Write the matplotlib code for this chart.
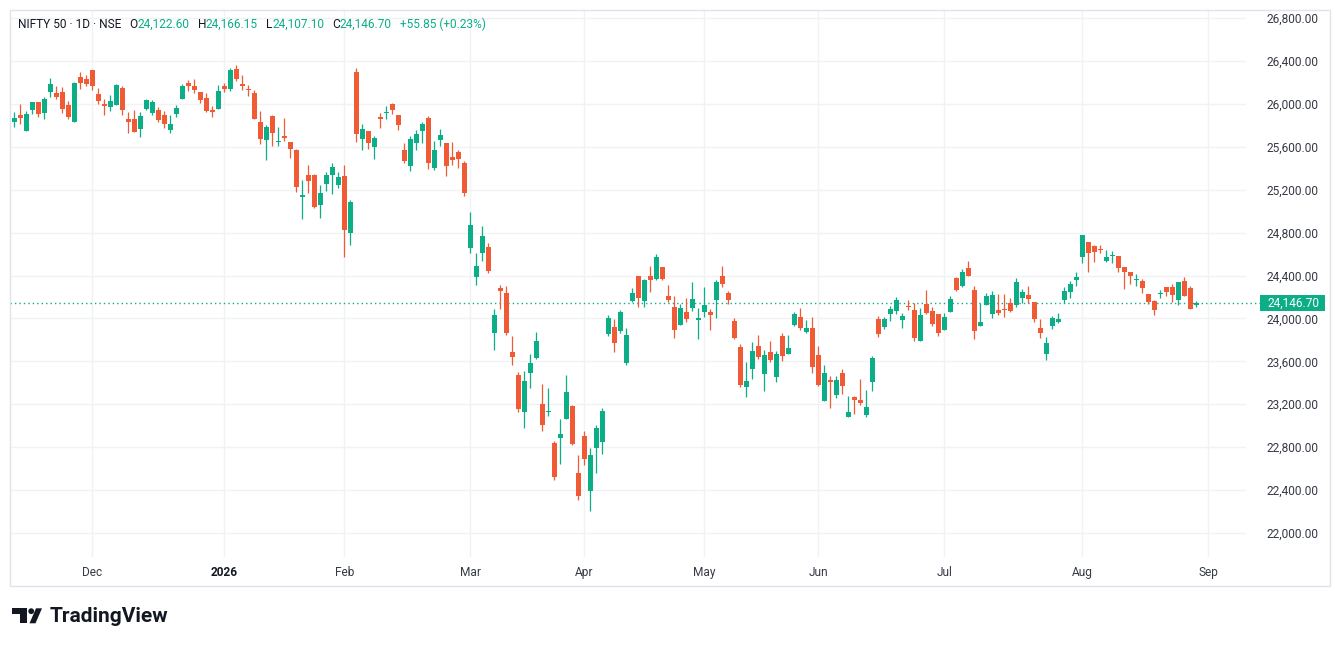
"""NIFTY 50 daily candles, TradingView light theme look-alike.

Usage:
    python3 plot.py   -> writes out.png
"""

import matplotlib
matplotlib.use("Agg")
import matplotlib.pyplot as plt
from matplotlib.patches import Rectangle, Circle, Polygon
from matplotlib.transforms import blended_transform_factory

plt.rcParams["font.family"] = ["Roboto", "DejaVu Sans"]

# --- data (one entry per trading session) ---
opens = [
    25827, 25899, 25750, 25939, 26019, 25911, 26112, 26103, 26112, 25992,
    25827, 26252, 26233, 26317, 26088, 26001, 25967, 25985, 26150, 25861,
    25861, 25762, 25954, 25917, 25945, 25899, 25753, 25902, 26041, 26196,
    26168, 26112, 26057, 25936, 25954, 26168, 26143, 26326, 26187, 26137,
    26103, 25833, 25660, 25889, 25641, 25694, 25647, 25573, 25130, 25341,
    25341, 25055, 25251, 25334, 25241, 25331, 24798, 26298, 25669, 25750,
    25595, 25880, 25911, 25995, 25899, 25567, 25418, 25632, 25744, 25871,
    25399, 25666, 25638, 25508, 25554, 25452, 24657, 24388, 24611, 24664,
    23867, 24282, 24236, 23687, 23473, 23123, 23495, 23634, 23204, 23126,
    22841, 22881, 23067, 23185, 22562, 22906, 22388, 22788, 22844, 23852,
    23917, 23883, 23582, 24158, 24391, 24158, 24391, 24363, 24475, 24205,
    24103, 23935, 24056, 24093, 23994, 24056, 24056, 24168, 24400, 24233,
    23972, 23731, 23362, 23529, 23743, 23483, 23687, 23455, 23836, 23669,
    23938, 24013, 23873, 23910, 23659, 23231, 23427, 23287, 23492, 23083,
    23269, 23241, 23101, 23408, 23994, 23923, 24041, 24068, 23985, 24115,
    24078, 23789, 24133, 24068, 24041, 23892, 24059, 24375, 24301, 24468,
    24264, 23929, 24124, 24041, 24078, 24087, 24143, 24124, 24189, 24217,
    24152, 23910, 23668, 23933, 23967, 24171, 24246, 24357, 24571, 24711,
    24673, 24645, 24534, 24584, 24580, 24478, 24432, 24360, 24348, 24227,
    24162, 24227, 24292, 24292, 24171, 24348, 24283, 24122.60,
]
highs = [
    25923, 26001, 25933, 26019, 26019, 26066, 26243, 26168, 26159, 26029,
    26202, 26295, 26270, 26317, 26150, 26050, 26081, 26187, 26168, 25926,
    25945, 25920, 26047, 26032, 25973, 25936, 25899, 25992, 26181, 26224,
    26233, 26112, 26103, 25979, 26178, 26190, 26336, 26364, 26270, 26178,
    26131, 25936, 25806, 25899, 25787, 25871, 25647, 25582, 25294, 25434,
    25350, 25248, 25368, 25452, 25368, 25434, 25108, 26336, 25815, 25750,
    25703, 25917, 25982, 26004, 25899, 25632, 25703, 25759, 25833, 25883,
    25657, 25768, 25638, 25647, 25573, 25471, 24989, 24608, 24859, 24701,
    24087, 24310, 24301, 23836, 23501, 23510, 23669, 23873, 23390, 23352,
    22859, 23064, 23473, 23194, 22729, 22952, 22794, 23008, 23166, 24028,
    23991, 24075, 23907, 24279, 24400, 24363, 24484, 24605, 24475, 24307,
    24205, 24130, 24186, 24335, 24093, 24289, 24084, 24354, 24484, 24251,
    24000, 23759, 23594, 23780, 23845, 23706, 23789, 23696, 23864, 23845,
    24059, 24096, 23985, 24013, 23743, 23566, 23464, 23464, 23529, 23278,
    23278, 23436, 23334, 23650, 24022, 24013, 24115, 24199, 24050, 24171,
    24143, 24096, 24264, 24106, 24041, 24050, 24208, 24385, 24459, 24533,
    24301, 24143, 24236, 24254, 24227, 24227, 24189, 24375, 24273, 24301,
    24152, 23994, 23827, 24022, 24050, 24292, 24348, 24432, 24776, 24711,
    24683, 24683, 24636, 24627, 24580, 24478, 24432, 24413, 24367, 24227,
    24171, 24264, 24292, 24320, 24339, 24385, 24301, 24166.15,
]
lows = [
    25781, 25809, 25744, 25902, 25874, 25855, 26060, 26050, 25911, 25855,
    25827, 26134, 26171, 26125, 25998, 25892, 25936, 25985, 25892, 25725,
    25734, 25688, 25939, 25899, 25827, 25775, 25725, 25877, 26041, 26116,
    26103, 26004, 25920, 25877, 25954, 26106, 26116, 26209, 26125, 26069,
    25855, 25623, 25474, 25604, 25604, 25651, 25492, 25176, 24925, 25170,
    25027, 24934, 25186, 25158, 25213, 24572, 24683, 25641, 25567, 25576,
    25489, 25778, 25861, 25902, 25753, 25446, 25372, 25567, 25638, 25390,
    25381, 25604, 25325, 25427, 25399, 25139, 24611, 24310, 24533, 24425,
    23709, 24090, 23848, 23569, 23123, 22974, 23355, 23625, 22946, 23086,
    22491, 22639, 23067, 22816, 22305, 22630, 22202, 22556, 22732, 23833,
    23687, 23864, 23563, 24149, 24103, 24103, 24242, 24354, 24354, 24149,
    23814, 23935, 23963, 24065, 23805, 24010, 23889, 24000, 24289, 24131,
    23805, 23359, 23269, 23436, 23622, 23324, 23594, 23408, 23603, 23669,
    23929, 23892, 23864, 23492, 23371, 23231, 23166, 23259, 23296, 23083,
    23110, 23194, 23083, 23324, 23830, 23901, 23975, 24041, 23910, 24078,
    23789, 23789, 24041, 23929, 23836, 23892, 24059, 24254, 24292, 24394,
    23808, 23929, 24124, 24003, 24031, 24013, 24059, 24106, 24143, 24143,
    23966, 23817, 23613, 23905, 23957, 24143, 24190, 24301, 24515, 24432,
    24525, 24608, 24525, 24515, 24432, 24274, 24320, 24301, 24236, 24134,
    24032, 24190, 24208, 24153, 24125, 24208, 24088, 24107.10,
]
closes = [
    25868, 25864, 25908, 26013, 25902, 26044, 26187, 26060, 25948, 25874,
    26196, 26199, 26187, 26162, 26023, 25976, 26026, 26178, 25945, 25827,
    25740, 25889, 26038, 26019, 25846, 25809, 25815, 25964, 26171, 26162,
    26125, 26032, 25930, 25930, 26122, 26134, 26317, 26236, 26162, 26134,
    25861, 25669, 25787, 25725, 25657, 25688, 25576, 25223, 25155, 25279,
    25037, 25173, 25341, 25415, 25322, 24823, 25089, 25716, 25768, 25632,
    25682, 25855, 25926, 25939, 25799, 25465, 25675, 25722, 25815, 25446,
    25567, 25713, 25418, 25474, 25483, 25167, 24868, 24487, 24766, 24440,
    24031, 24258, 23867, 23644, 23151, 23417, 23585, 23789, 23011, 23132,
    22518, 22925, 23315, 22825, 22342, 22686, 22729, 22980, 23138, 24000,
    23771, 24056, 23842, 24233, 24186, 24354, 24354, 24577, 24372, 24168,
    23889, 24093, 23991, 24177, 23997, 24121, 24028, 24335, 24317, 24168,
    23814, 23380, 23417, 23696, 23641, 23659, 23613, 23669, 23650, 23724,
    24041, 23910, 23910, 23548, 23380, 23492, 23411, 23427, 23371, 23129,
    23241, 23213, 23176, 23631, 23858, 23994, 24087, 24171, 24022, 24109,
    23817, 24031, 24050, 23948, 23864, 24013, 24180, 24264, 24431, 24394,
    23882, 23966, 24208, 24217, 24050, 24081, 24068, 24338, 24245, 24180,
    23994, 23864, 23771, 24004, 23995, 24255, 24320, 24385, 24776, 24608,
    24618, 24639, 24571, 24590, 24469, 24432, 24394, 24367, 24283, 24153,
    24078, 24233, 24246, 24218, 24339, 24208, 24091, 24146.70,
]

# first session of each month (index into the arrays above)
month_labels = ["Dec", "2026", "Feb", "Mar", "Apr", "May", "Jun", "Jul", "Aug", "Sep"]
month_start_idx = [13, 35, 55, 76, 95, 115, 134, 155, 178, 199]

price_ticks = [22000, 22400, 22800, 23200, 23600, 24000, 24400, 24800,
               25200, 25600, 26000, 26400, 26800]

header_parts = [
    ("NIFTY 50 \u00b7 1D \u00b7 NSE", "dark"),
    ("O", "dark"), ("24,122.60", "up"),
    ("H", "dark"), ("24,166.15", "up"),
    ("L", "dark"), ("24,107.10", "up"),
    ("C", "dark"), ("24,146.70", "up"),
    ("+55.85 (+0.23%)", "up"),
]

UP = "#0BAE87"
DOWN = "#F05A35"
TEXT = "#131722"
AXIS_TEXT = "#363A45"
GRID = "#F0F2F6"
W, H = 1339, 646


def draw_candles(ax):
    xs = range(len(closes))
    min_h = 12  # doji bodies still get a visible sliver
    for i, o, h, l, c in zip(xs, opens, highs, lows, closes):
        col = UP if c >= o else DOWN
        ax.vlines(i, l, h, color=col, linewidth=0.9, zorder=3)
        lo = min(o, c)
        hgt = max(abs(c - o), min_h)
        ax.bar(i, hgt, bottom=lo - (hgt - abs(c - o)) / 2, width=0.8,
               color=col, edgecolor=col, linewidth=0, zorder=4)


def main():
    fig = plt.figure(figsize=(W / 100, H / 100), dpi=100)
    fig.patch.set_facecolor("white")

    # plot area in pixels: x 10..1246, y 10..557
    ax = fig.add_axes([10 / W, (H - 557) / H, 1236 / W, 547 / H])
    ax.set_facecolor("white")
    for s in ax.spines.values():
        s.set_visible(False)

    ax.set_xlim(-0.72, 205.28)
    ax.set_ylim(21776, 26875)

    for p in price_ticks:
        ax.axhline(p, color=GRID, linewidth=1.0, zorder=0)
    for m in month_start_idx:
        ax.axvline(m, color=GRID, linewidth=1.0, zorder=0)

    draw_candles(ax)

    # last price dotted line
    last = closes[-1]
    trans = blended_transform_factory(ax.transAxes, ax.transData)
    ax.plot([0, 1.0113], [last, last], transform=trans, color=UP,
            linestyle=(0, (1, 2.2)), linewidth=1.0, clip_on=False, zorder=2)

    ax.yaxis.tick_right()
    ax.set_yticks(price_ticks)
    ax.set_yticklabels([f"{p:,.2f}" for p in price_ticks])
    ax.tick_params(axis="y", length=0, pad=52.5, labelsize=8.6, labelcolor=AXIS_TEXT)
    for lab in ax.get_yticklabels():
        lab.set_horizontalalignment("right")

    ax.set_xticks(month_start_idx)
    ax.set_xticklabels(month_labels)
    ax.tick_params(axis="x", length=0, pad=6.5, labelsize=8.6, labelcolor=AXIS_TEXT)
    for lab in ax.get_xticklabels():
        if lab.get_text().isdigit():
            lab.set_fontweight("bold")
            lab.set_color(TEXT)

    # overlay in pixel coordinates for frame, header, price tag and logo
    ov = fig.add_axes([0, 0, 1, 1], zorder=10)
    ov.set_xlim(0, W)
    ov.set_ylim(H, 0)
    ov.axis("off")
    ov.patch.set_alpha(0)

    ov.add_patch(Rectangle((9.5, 9.5), 1320, 576, fill=False,
                           edgecolor="#E0E3EB", linewidth=1.0))

    header_x = [18.3, 129, 137.7, 198.3, 206, 266, 272.3, 332.7, 340, 400]
    for (txt, kind), x in zip(header_parts, header_x):
        ov.text(x, 24.5, txt, color=UP if kind == "up" else TEXT,
                fontsize=8.6, ha="left", va="center")

    ov.add_patch(Rectangle((1260, 295), 64.5, 16, facecolor=UP, edgecolor="none"))
    ov.text(1319.5, 303.3, f"{last:,.2f}", color="white", fontsize=8.6,
            ha="right", va="center")

    # TradingView logo mark and word
    ov.add_patch(Rectangle((11.7, 608.3), 15.0, 5.8, facecolor=TEXT, edgecolor="none"))
    ov.add_patch(Rectangle((19.5, 608.3), 7.2, 15.0, facecolor=TEXT, edgecolor="none"))
    ov.add_patch(Circle((31.2, 611.2), 2.9, facecolor=TEXT, edgecolor="none"))
    ov.add_patch(Polygon([(36.0, 608.3), (42.0, 608.3), (35.5, 623.3), (29.5, 623.3)],
                         closed=True, facecolor=TEXT, edgecolor="none"))
    ov.text(49.5, 616.5, "TradingView", color=TEXT, fontsize=15, fontweight="bold",
            ha="left", va="center")

    fig.savefig("out.png", dpi=100, facecolor="white")


if __name__ == "__main__":
    main()
